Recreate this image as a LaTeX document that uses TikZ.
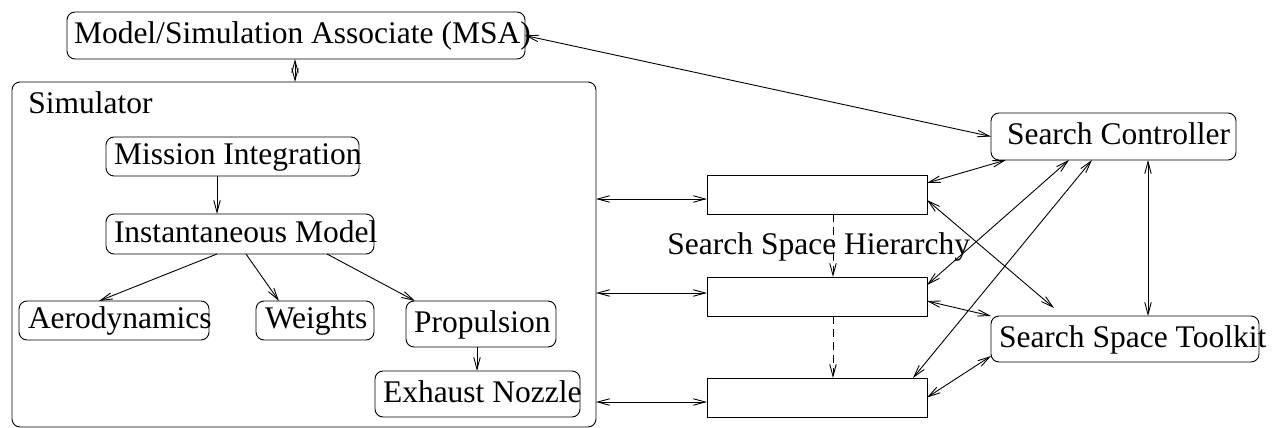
\documentclass[tikz,border=0pt]{standalone}
\usepackage{fontspec}
\setmainfont{Liberation Serif}
\usetikzlibrary{arrows.meta}

\newcommand{\lbl}[2]{\makebox[#1pt][l]{#2}}

\tikzset{
    blk/.style={draw, rounded corners=8pt, anchor=north west, inner ysep=0pt, outer sep=0pt,
        text height=22pt, text depth=6pt},
    rect/.style={draw, anchor=north west, minimum width=220pt, minimum height=39pt,
        inner sep=0pt, outer sep=0pt},
    txt/.style={anchor=base west, inner sep=0pt}
}

\begin{document}
\begin{tikzpicture}[x=1pt, y=-1pt, line width=0.9pt,
    >={Straight Barb[length=12pt,width=6.5pt]},
    font=\fontsize{31.5pt}{36pt}\selectfont]

    \useasboundingbox (0,0) rectangle (1274,428);

    % simulator side
    \node[blk, inner xsep=7pt, minimum height=47pt] (msa) at (67,12) {\lbl{444}{Model/Simulation Associate (MSA)}};
    \node[blk, minimum width=584pt, minimum height=345pt] (sim) at (12,82) {};
    \node[txt] (simlbl) at (28,113) {Simulator};

    \node[blk, inner xsep=8pt, minimum height=39pt] (mi)   at (106,137) {\lbl{237}{Mission Integration}};
    \node[blk, inner xsep=8pt, minimum height=40pt] (inst) at (106,214) {\lbl{252}{Instantaneous Model}};
    \node[blk, inner xsep=9pt, minimum height=39pt] (aero) at (19,301)  {\lbl{172}{Aerodynamics}};
    \node[blk, inner xsep=9pt, minimum height=39pt] (wts)  at (256,301) {\lbl{100}{Weights}};
    \node[blk, inner xsep=8pt, minimum height=46pt] (prop) at (406,301) {\lbl{134}{Propulsion}};
    \node[blk, inner xsep=8pt, minimum height=46pt] (exh)  at (375,371) {\lbl{189}{Exhaust Nozzle}};

    \draw[<->] ([xshift=-1pt]msa.south) -- ([xshift=-9pt]sim.north);
    \draw[->] ([xshift=-15.5pt]mi.south) -- ([xshift=-23pt]inst.north);
    \draw[->] ([xshift=-23pt]inst.south) -- ([xshift=-15pt]aero.north);
    \draw[->] ([xshift=6pt]inst.south) -- ([xshift=-36pt]wts.north);
    \draw[->] ([xshift=87pt]inst.south) -- ([xshift=-66pt]prop.north);
    \draw[->] ([xshift=-4pt]prop.south) -- ([xshift=-0.5pt]exh.north);

    % search space side
    \foreach \n/\y in {1/175, 2/277, 3/378}{
        \node[rect] (r\n) at (707,\y) {};
    }
    \node[txt] (ssh) at (667,254) {Search Space Hierarchy};

    \foreach \n/\d in {1/-4.5, 2/3.5, 3/-4.5}{
        \coordinate (h\n) at ([yshift=\d pt]r\n.west);
        \draw[<->] (sim.east |- h\n) -- (h\n);
    }
    \draw[->, dash pattern=on 8pt off 5pt] ([xshift=16pt]r1.south) -- ([xshift=16pt]r2.north);
    \draw[->, dash pattern=on 8pt off 5pt] ([xshift=16pt]r2.south) -- ([xshift=16pt]r3.north);

    \node[blk, inner xsep=16pt, minimum height=47pt] (sc)  at (991,113) {\lbl{213}{Search Controller}};
    \node[blk, inner xsep=8pt, minimum height=46pt]  (sst) at (991,316) {\lbl{252}{Search Space Toolkit}};

    \draw[<->] (msa.east) -- (sc.west);
    \draw[<->] ([yshift=11.5pt]r1.east) -- ([xshift=15pt]sc.south west);
    \draw[<->] ([yshift=-5.5pt]r1.east) -- ([xshift=63pt,yshift=8pt]sst.north west);
    \draw[<->] ([yshift=11.5pt]r2.east) -- ([xshift=78pt]sc.south west);
    \draw[<->] ([yshift=-4.5pt]r2.east) -- (sst.north west);
    \draw[<->] ([xshift=-14pt]r3.north east) -- ([xshift=101pt]sc.south west);
    \draw[<->] (r3.east) -- ([yshift=-17pt]sst.west);
    \draw[<->] ([xshift=34.5pt]sc.south) -- ([xshift=23pt]sst.north);

\end{tikzpicture}
\end{document}
